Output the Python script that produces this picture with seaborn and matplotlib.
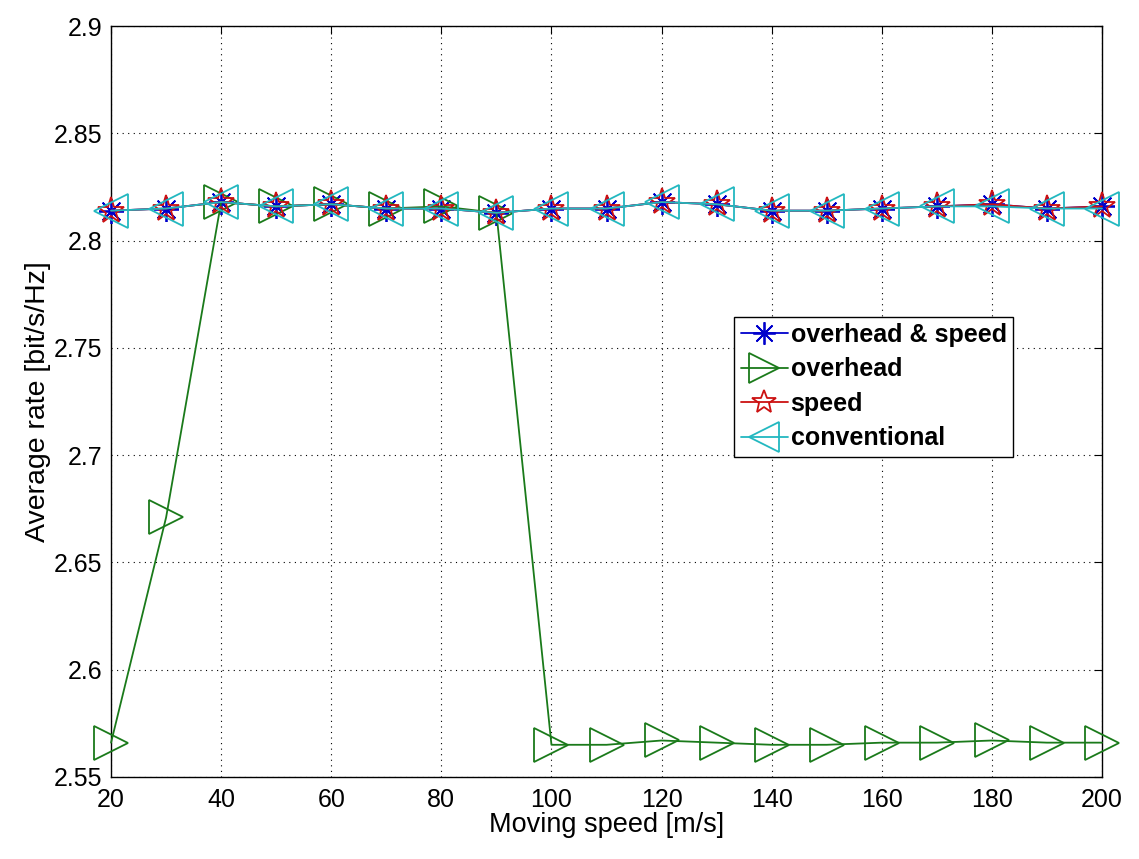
import matplotlib
matplotlib.use("Agg")
import matplotlib.pyplot as plt
import seaborn as sns
import pandas as pd

speed = [20, 30, 40, 50, 60, 70, 80, 90, 100, 110, 120, 130, 140, 150, 160, 170, 180, 190, 200]

# average rate for each scheme
rate_both = [2.814, 2.815, 2.818, 2.816, 2.817, 2.815, 2.815, 2.813, 2.815, 2.815,
             2.818, 2.817, 2.814, 2.814, 2.815, 2.816, 2.817, 2.815, 2.816]
rate_overhead = [2.566, 2.671, 2.818, 2.816, 2.817, 2.815, 2.816, 2.813, 2.565, 2.565,
                 2.567, 2.566, 2.565, 2.565, 2.566, 2.566, 2.567, 2.566, 2.566]
rate_speed = [2.814, 2.815, 2.818, 2.816, 2.817, 2.815, 2.815, 2.813, 2.815, 2.815,
              2.818, 2.817, 2.814, 2.814, 2.815, 2.816, 2.817, 2.815, 2.816]
rate_conv = [2.814, 2.815, 2.818, 2.816, 2.817, 2.815, 2.815, 2.813, 2.815, 2.815,
             2.818, 2.817, 2.814, 2.814, 2.815, 2.816, 2.816, 2.815, 2.815]

labels = ["overhead & speed", "overhead", "speed", "conventional"]

sns.set_style("white")
plt.rcParams['font.family'] = ['Liberation Sans', 'DejaVu Sans']
plt.rcParams['text.color'] = 'black'
plt.rcParams['axes.labelcolor'] = 'black'
plt.rcParams['xtick.color'] = 'black'
plt.rcParams['ytick.color'] = 'black'

fig = plt.figure(figsize=(11.39, 8.59), dpi=100)
ax = fig.add_axes([0.0975, 0.0955, 0.87, 0.874])

series = [
    (rate_both, "#0000cc", (8, 2, 0), 18),
    (rate_overhead, "#1a7a1a", ">", 24),
    (rate_speed, "#cc1111", "*", 20),
    (rate_conv, "#22b8c0", "<", 24),
]
for (vals, col, mk, ms), lab in zip(series, labels):
    df = pd.DataFrame({"speed": speed, "rate": vals})
    sns.lineplot(data=df, x="speed", y="rate", ax=ax, color=col, label=lab,
                 marker=mk, markersize=ms, markerfacecolor="none",
                 markeredgecolor=col, markeredgewidth=1.3, linewidth=1.3,
                 clip_on=False)

ax.set_xlim(20, 200)
ax.set_ylim(2.55, 2.9)
ax.set_xticks(range(20, 201, 20))
ax.set_yticks([2.55, 2.6, 2.65, 2.7, 2.75, 2.8, 2.85, 2.9])
ax.set_yticklabels(["2.55", "2.6", "2.65", "2.7", "2.75", "2.8", "2.85", "2.9"])
ax.grid(True, linestyle=(0, (1, 4)), color="black", linewidth=0.8)
ax.tick_params(direction="in", labelsize=18, length=6, top=True, right=True)
ax.tick_params(axis="x", pad=8)
ax.tick_params(axis="y", pad=6)
for sp in ax.spines.values():
    sp.set_color("black")
    sp.set_linewidth(1.0)
    sp.set_zorder(0.5)
ax.set_xlabel("Moving speed [m/s]", fontsize=19.5, labelpad=0)
ax.set_ylabel("Average rate [bit/s/Hz]", fontsize=20.5, labelpad=2)

leg = ax.legend(loc="upper left", bbox_to_anchor=(0.629, 0.613), frameon=True,
                fancybox=False, edgecolor="black", handlelength=1.9,
                handletextpad=0.1, borderpad=0.25, labelspacing=0.42,
                borderaxespad=0, prop={"weight": "bold", "size": 18},
                markerscale=0.9, framealpha=1)
leg.get_frame().set_linewidth(1.0)

fig.savefig("out.png", dpi=100, facecolor="white")
